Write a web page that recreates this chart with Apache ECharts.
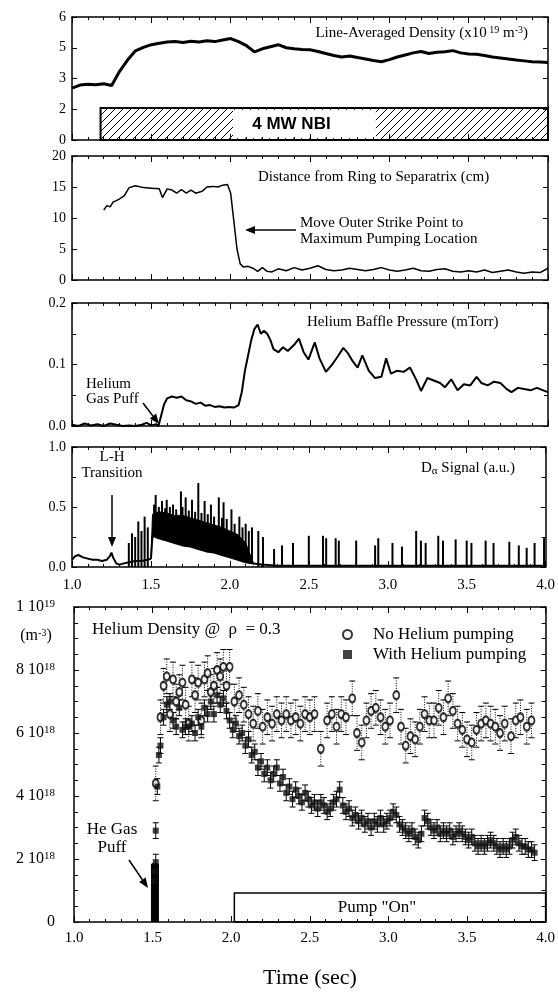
<!DOCTYPE html>
<html>
<head>
<meta charset="utf-8">
<title>Helium pumping</title>
<script src="https://cdn.jsdelivr.net/npm/echarts@6/dist/echarts.min.js"></script>
<style>
html, body { margin: 0; padding: 0; background: #fff; }
#main { width: 558px; height: 999px; }
</style>
</head>
<body>
<div id="main"></div>
<script>
// ---- values ----
// panel 1: line-averaged density (plotted on the 0..6 frame)
var densT = [1.00,1.05,1.10,1.15,1.20,1.25,1.30,1.35,1.40,1.45,1.50,1.55,1.60,1.65,1.70,1.75,1.80,1.85,1.90,1.95,
  2.00,2.05,2.10,2.15,2.20,2.25,2.30,2.35,2.40,2.45,2.50,2.55,2.60,2.65,2.70,2.75,2.80,2.85,2.90,2.95,
  3.00,3.05,3.10,3.15,3.20,3.25,3.30,3.35,3.40,3.45,3.50,3.55,3.60,3.65,3.70,3.75,3.80,3.85,3.90,3.95,4.00]
var densV = [2.53,2.68,2.72,2.70,2.74,2.66,3.35,3.90,4.35,4.52,4.65,4.72,4.78,4.80,4.76,4.82,4.78,4.84,4.80,4.88,
  4.95,4.80,4.60,4.30,4.45,4.55,4.65,4.50,4.45,4.42,4.40,4.32,4.22,4.12,4.05,4.10,4.02,3.95,3.88,3.82,
  3.92,4.05,4.15,4.25,4.32,4.22,4.28,4.30,4.36,4.25,4.20,4.18,4.12,4.05,4.00,3.95,3.90,3.86,3.82,3.80,3.78]
var densTicks = { 0: '0', 1.5: '2', 3: '3', 4.5: '5', 6: '6' }
var nbiOn = 1.18

// panel 2: distance from ring to separatrix (cm)
var distT = [1.20,1.22,1.24,1.26,1.28,1.30,1.33,1.36,1.40,1.45,1.50,1.55,1.57,1.60,1.63,1.66,1.69,1.72,1.75,1.78,
  1.82,1.85,1.89,1.92,1.95,1.98,2.00,2.02,2.04,2.06,2.08,2.11,2.14,2.17,2.20,2.23,2.26,2.30,2.35,2.40,
  2.45,2.50,2.55,2.60,2.65,2.70,2.75,2.80,2.85,2.90,2.95,3.00,3.05,3.10,3.15,3.20,3.25,3.30,3.35,3.40,
  3.45,3.50,3.55,3.60,3.65,3.70,3.75,3.80,3.85,3.90,3.95,4.00]
var distV = [11.3,12.0,11.8,12.6,12.8,13.1,13.6,14.9,15.2,14.9,14.8,14.7,13.3,14.7,14.5,14.0,14.6,14.0,14.5,14.0,
  14.3,15.0,15.1,15.0,15.3,15.4,14.0,9.5,5.0,2.6,2.1,2.2,1.9,1.4,2.0,1.4,1.3,1.8,1.5,2.0,
  1.6,1.9,2.3,1.7,1.5,1.6,1.9,1.7,1.5,1.7,2.0,1.6,1.4,1.6,1.9,1.5,1.4,1.7,1.8,1.4,
  1.3,1.5,1.3,1.6,1.2,1.4,1.6,1.3,1.1,1.3,1.2,1.9]

// panel 3: helium baffle pressure (mTorr)
var presT = [1.00,1.04,1.08,1.12,1.16,1.20,1.24,1.28,1.32,1.36,1.40,1.44,1.47,1.50,1.53,1.545,1.56,1.58,1.60,1.63,
  1.66,1.69,1.72,1.75,1.78,1.81,1.84,1.87,1.90,1.93,1.96,1.99,2.02,2.05,2.07,2.09,2.11,2.13,2.15,2.17,
  2.19,2.21,2.23,2.25,2.27,2.30,2.33,2.36,2.40,2.43,2.46,2.49,2.53,2.56,2.60,2.64,2.68,2.71,2.74,2.77,
  2.80,2.83,2.87,2.91,2.95,2.98,3.01,3.05,3.09,3.13,3.17,3.20,3.24,3.28,3.32,3.35,3.39,3.43,3.47,3.51,
  3.55,3.58,3.62,3.66,3.70,3.74,3.77,3.81,3.85,3.89,3.93,3.97,4.00]
var presV = [0.002,0.000,0.004,0.001,0.003,0.000,0.004,0.002,0.000,0.001,0.000,0.002,0.005,0.001,0.003,0.000,0.015,0.035,0.045,0.048,
  0.046,0.048,0.042,0.040,0.036,0.038,0.033,0.034,0.031,0.032,0.030,0.031,0.030,0.034,0.055,0.090,0.115,0.140,0.158,0.165,
  0.150,0.155,0.150,0.140,0.125,0.120,0.128,0.122,0.132,0.142,0.120,0.108,0.136,0.110,0.088,0.100,0.115,0.127,0.118,0.105,
  0.095,0.115,0.090,0.078,0.080,0.110,0.085,0.090,0.088,0.095,0.075,0.057,0.078,0.074,0.070,0.063,0.076,0.058,0.068,0.066,
  0.080,0.070,0.066,0.072,0.070,0.060,0.055,0.062,0.060,0.058,0.062,0.058,0.055]

// panel 4: D-alpha signal (a.u.)
var dalPreT = [1.00,1.02,1.04,1.07,1.10,1.13,1.16,1.19,1.22,1.24,1.25,1.26,1.28,1.30,1.33,1.36,1.40,1.44,1.48,1.50]
var dalPreV = [0.06,0.09,0.10,0.08,0.07,0.06,0.06,0.05,0.06,0.09,0.12,0.08,0.03,0.02,0.03,0.04,0.05,0.05,0.06,0.07]
var bandT = [1.50,1.51,1.55,1.60,1.65,1.70,1.75,1.80,1.85,1.90,1.95,2.00,2.05,2.10,2.15]
var bandHi = [0.07,0.44,0.46,0.45,0.43,0.43,0.41,0.39,0.37,0.35,0.33,0.30,0.27,0.20,0.03]
var bandLo = [0.07,0.26,0.24,0.22,0.20,0.18,0.17,0.15,0.13,0.12,0.10,0.08,0.06,0.04,0.03]
var dalPostT = [2.20,2.30,2.50,2.70,3.00,3.30,3.60,4.00]
var dalPostV = [0.02,0.01,0.01,0.01,0.01,0.01,0.01,0.01]
var spikeT = [1.36,1.38,1.40,1.42,1.44,1.46,1.48,1.52,1.53,1.55,1.57,1.59,1.60,1.62,1.64,1.66,1.69,1.70,1.72,1.74,
  1.76,1.78,1.80,1.82,1.84,1.86,1.88,1.90,1.93,1.95,1.96,1.98,2.01,2.03,2.06,2.08,2.10,2.12,2.14,2.18,
  2.21,2.28,2.33,2.40,2.50,2.59,2.61,2.67,2.69,2.80,2.92,2.94,3.03,3.09,3.18,3.21,3.24,3.32,3.35,3.43,
  3.50,3.53,3.62,3.67,3.77,3.83,3.88,3.93,3.99]
var spikeH = [0.20,0.28,0.25,0.38,0.30,0.42,0.33,0.52,0.60,0.50,0.55,0.49,0.56,0.50,0.52,0.48,0.63,0.50,0.58,0.47,
  0.56,0.46,0.70,0.45,0.55,0.44,0.52,0.42,0.58,0.41,0.54,0.40,0.48,0.36,0.42,0.33,0.36,0.30,0.33,0.30,
  0.25,0.15,0.18,0.20,0.26,0.26,0.24,0.24,0.22,0.22,0.18,0.24,0.20,0.17,0.30,0.22,0.20,0.26,0.22,0.23,
  0.22,0.20,0.22,0.20,0.21,0.18,0.16,0.20,0.24]

// panel 5: helium density @ rho = 0.3, in units of 1e18 m^-3
var noPumpT = [1.52,1.55,1.57,1.59,1.61,1.63,1.65,1.67,1.69,1.71,1.73,1.75,1.77,1.79,1.81,1.83,1.85,1.87,1.89,1.91,
  1.93,1.95,1.97,1.99,2.02,2.05,2.08,2.11,2.14,2.17,2.20,2.23,2.26,2.29,2.32,2.35,2.38,2.41,2.44,2.47,
  2.50,2.53,2.57,2.61,2.64,2.67,2.70,2.73,2.77,2.80,2.83,2.86,2.89,2.92,2.95,2.98,3.01,3.05,3.08,3.11,
  3.14,3.17,3.20,3.23,3.26,3.29,3.32,3.35,3.38,3.41,3.44,3.47,3.50,3.53,3.56,3.59,3.62,3.65,3.68,3.71,
  3.74,3.78,3.81,3.84,3.88,3.91]
var noPumpV = [4.4,6.5,7.5,7.8,6.6,7.7,7.0,7.3,7.6,6.9,6.3,7.7,7.2,7.6,6.4,7.7,7.9,7.3,7.5,8.0,
  7.8,8.1,7.5,8.1,7.0,7.2,6.9,6.6,6.3,6.7,6.2,6.5,6.3,6.6,6.4,6.6,6.4,6.5,6.3,6.6,
  6.5,6.6,5.5,6.4,6.6,6.2,6.6,6.5,7.1,6.0,5.7,6.4,6.7,6.8,6.5,6.2,6.4,7.2,6.2,5.6,
  5.9,5.8,6.2,6.6,6.4,6.4,6.8,6.5,7.1,6.7,6.3,6.1,5.8,5.7,6.1,6.3,6.4,6.3,6.2,6.0,
  6.3,5.9,6.4,6.5,6.2,6.4]
var noPumpErr = 0.55
var pumpT = [1.51,1.515,1.52,1.52,1.53,1.54,1.55,
  1.57,1.59,1.61,1.63,1.65,1.67,1.69,1.71,1.73,1.75,
  1.77,1.79,1.81,1.83,1.85,1.87,1.89,1.91,1.93,1.95,
  1.97,1.99,2.01,2.03,2.05,2.07,2.09,2.11,2.13,2.15,
  2.17,2.19,2.21,2.23,2.25,2.27,2.29,2.31,2.33,2.35,
  2.37,2.39,2.41,2.43,2.45,2.47,2.49,2.51,2.53,2.55,
  2.57,2.59,2.61,2.63,2.65,2.67,2.69,2.71,2.73,2.75,
  2.77,2.79,2.81,2.83,2.85,2.87,2.89,2.91,2.93,2.95,
  2.97,2.99,3.01,3.03,3.05,3.07,3.09,3.11,3.13,3.15,
  3.17,3.19,3.21,3.23,3.25,3.27,3.29,3.31,3.33,3.35,
  3.37,3.39,3.41,3.43,3.45,3.47,3.49,3.51,3.53,3.55,
  3.57,3.59,3.61,3.63,3.65,3.67,3.69,3.71,3.73,3.75,
  3.77,3.79,3.81,3.83,3.85,3.87,3.89,3.91,3.93]
var pumpV = [1.3,1.6,1.9,2.9,4.3,5.3,5.6,
  6.5,6.9,7.0,6.4,6.2,6.8,6.1,6.2,6.2,6.3,
  6.0,6.5,6.2,6.8,6.6,7.0,6.6,7.2,6.9,7.1,
  6.7,6.4,6.1,6.3,5.9,6.0,5.6,5.8,5.3,5.4,
  4.9,5.1,4.7,4.9,4.5,4.7,4.9,4.4,4.6,4.1,
  4.3,3.9,4.2,4.0,3.8,4.1,3.9,3.7,3.8,3.6,
  3.8,3.7,3.5,3.6,3.8,3.9,4.2,3.7,3.5,3.6,
  3.3,3.4,3.2,3.3,3.1,3.2,3.0,3.2,3.1,3.3,
  3.1,3.2,3.3,3.5,3.4,3.1,3.0,2.9,2.8,2.9,
  2.7,2.6,2.8,3.3,3.2,3.0,2.9,3.0,2.8,2.9,
  2.8,2.9,2.7,2.8,2.9,2.8,2.7,2.6,2.7,2.5,
  2.4,2.5,2.4,2.5,2.6,2.5,2.4,2.3,2.4,2.3,
  2.4,2.6,2.7,2.5,2.4,2.4,2.3,2.3,2.2]
var pumpErr = 0.25
var puffT = [1.515]
var puffV = [1.85]
var pumpOnT = 2.02

// ---- layout ----
var serif = 'Liberation Serif'
var grids = [
  { left: 72, right: 10, top: 17, height: 123 },
  { left: 72, right: 10, top: 156, height: 124 },
  { left: 72, right: 10, top: 303, height: 123 },
  { left: 72, right: 10, top: 447, height: 120 },
  { left: 74, right: 10, top: 607, height: 315 }
]
var yCfg = [
  { max: 6, interval: 1.5, minor: 0, fmt: function(v) { return densTicks[v] } },
  { max: 20, interval: 5, minor: 0, fmt: function(v) { return String(v) } },
  { max: 0.2, interval: 0.1, minor: 2, fmt: function(v) { return v.toFixed(1) } },
  { max: 1, interval: 0.5, minor: 2, fmt: function(v) { return v.toFixed(1) } },
  { max: 10, interval: 2, minor: 4, fmt: function(v) {
    if (v === 0) return '0'
    if (v === 10) return '1 10{s|19}'
    return v + ' 10{s|18}'
  } }
]

function pairs(t, v) {
  return t.map(function(x, i) { return [x, v[i]] })
}
function withErr(t, v, e) {
  return t.map(function(x, i) { return [x, v[i], e] })
}

var xAxes = []
var yAxes = []
grids.forEach(function(g, i) {
  ['bottom', 'top'].forEach(function(pos) {
    xAxes.push({
      type: 'value', gridIndex: i, position: pos, min: 1, max: 4, interval: 0.5, z: 10,
      axisLine: { show: true, onZero: false, lineStyle: { color: '#000', width: 1.5 } },
      axisTick: { inside: true, length: 6, lineStyle: { color: '#000', width: 1 } },
      minorTick: { show: true, splitNumber: 5, length: 3, lineStyle: { color: '#000' } },
      splitLine: { show: false },
      axisLabel: {
        show: pos === 'bottom' && i >= 3, margin: i === 3 ? 11 : 9,
        color: '#000', fontFamily: serif, fontSize: 15,
        formatter: function(v) { return v.toFixed(1) }
      }
    })
  })
  var c = yCfg[i];
  ['left', 'right'].forEach(function(pos) {
    yAxes.push({
      type: 'value', gridIndex: i, position: pos, min: 0, max: c.max, interval: c.interval, z: 10,
      axisLine: { show: true, onZero: false, lineStyle: { color: '#000', width: 1.5 } },
      axisTick: { inside: true, length: 5, lineStyle: { color: '#000', width: 1 } },
      minorTick: { show: c.minor > 0, splitNumber: c.minor || 2, length: 4, lineStyle: { color: '#000' } },
      splitLine: { show: false },
      axisLabel: {
        show: pos === 'left', margin: i === 4 ? 19 : 6,
        color: '#000', fontFamily: serif, fontSize: i === 4 ? 16 : 14,
        formatter: c.fmt,
        rich: { s: { fontFamily: serif, fontSize: 11, verticalAlign: 'top', padding: [0, 0, 6, 0] } }
      }
    })
  })
})

// hatch pattern for the NBI bar
var hatch = document.createElement('canvas')
hatch.width = 8
hatch.height = 8
var hc = hatch.getContext('2d')
hc.fillStyle = '#fff'
hc.fillRect(0, 0, 8, 8)
hc.strokeStyle = '#000'
hc.lineWidth = 1
hc.beginPath()
hc.moveTo(0, 8); hc.lineTo(8, 0)
hc.moveTo(-1, 1); hc.lineTo(1, -1)
hc.moveTo(7, 9); hc.lineTo(9, 7)
hc.stroke()

function errBars(dotted) {
  return function(params, api) {
    var x = api.value(0), y = api.value(1), e = api.value(2)
    var hi = api.coord([x, y + e])
    var lo = api.coord([x, y - e])
    var w = 3
    return {
      type: 'group',
      children: [
        { type: 'line', shape: { x1: hi[0], y1: hi[1], x2: lo[0], y2: lo[1] },
          style: { stroke: '#000', lineWidth: 1, lineDash: dotted ? [1, 1.5] : null } },
        { type: 'line', shape: { x1: hi[0] - w, y1: hi[1], x2: hi[0] + w, y2: hi[1] }, style: { stroke: '#000', lineWidth: 1 } },
        { type: 'line', shape: { x1: lo[0] - w, y1: lo[1], x2: lo[0] + w, y2: lo[1] }, style: { stroke: '#000', lineWidth: 1 } }
      ]
    }
  }
}

function txt(x, y, text, size, align, rich) {
  return {
    type: 'text', x: x, y: y, z: 20,
    style: { text: text, fontFamily: serif, fontSize: size, fill: '#000', align: align || 'left', verticalAlign: 'middle', rich: rich }
  }
}
function arrow(x1, y1, x2, y2) {
  var a = Math.atan2(y2 - y1, x2 - x1), L = 10, W = 4
  var bx = x2 - L * Math.cos(a), by = y2 - L * Math.sin(a)
  var px = -Math.sin(a) * W, py = Math.cos(a) * W
  return [
    { type: 'line', z: 20, shape: { x1: x1, y1: y1, x2: bx, y2: by }, style: { stroke: '#000', lineWidth: 1.5 } },
    { type: 'polygon', z: 20, shape: { points: [[x2, y2], [bx + px, by + py], [bx - px, by - py]] }, style: { fill: '#000' } }
  ]
}
var sup = { s: { fontFamily: serif, fontSize: 10, verticalAlign: 'top', padding: [0, 0, 6, 0] } }
var sub = { d: { fontFamily: serif, fontSize: 11, verticalAlign: 'bottom', padding: [6, 0, 0, 0] } }

var graphics = [
  txt(528, 33, 'Line-Averaged Density (x10{s| 19} m{s|-3})', 15, 'right', sup),
  txt(258, 177, 'Distance from Ring to Separatrix (cm)', 15),
  txt(300, 223, 'Move Outer Strike Point to', 15),
  txt(300, 239, 'Maximum Pumping Location', 15),
  txt(307, 322, 'Helium Baffle Pressure (mTorr)', 15),
  txt(86, 384, 'Helium', 15),
  txt(86, 399, 'Gas Puff', 15),
  txt(112, 457, 'L-H', 15, 'center'),
  txt(112, 473, 'Transition', 15, 'center'),
  txt(421, 468, 'D{d|α} Signal (a.u.)', 15, 'left', sub),
  txt(92, 630, 'Helium Density @  ρ  = 0.3', 17),
  txt(36, 636, '(m{s|-3})', 16, 'center', sup),
  txt(112, 830, 'He Gas', 17, 'center'),
  txt(112, 848, 'Puff', 17, 'center'),
  txt(310, 978, 'Time (sec)', 22, 'center')
].concat(arrow(296, 230, 245, 230), arrow(143, 403, 159, 424), arrow(112, 495, 112, 547), arrow(129, 860, 148, 888))

var option = {
  animation: false,
  backgroundColor: '#fff',
  grid: grids,
  xAxis: xAxes,
  yAxis: yAxes,
  legend: {
    data: ['No Helium pumping', 'With Helium pumping'],
    orient: 'vertical', left: 337, top: 621, itemGap: 3, itemWidth: 9, itemHeight: 9,
    textStyle: { fontFamily: serif, fontSize: 17, color: '#000', padding: [0, 0, 0, 16] }
  },
  graphic: graphics,
  series: [
    {
      type: 'line', xAxisIndex: 0, yAxisIndex: 0, data: pairs(densT, densV), showSymbol: false,
      lineStyle: { color: '#000', width: 3 },
      markArea: {
        silent: true,
        data: [
          [{ xAxis: nbiOn, yAxis: 0, itemStyle: { color: { image: hatch, repeat: 'repeat' }, borderColor: '#000', borderWidth: 2 }, label: { show: false } },
           { xAxis: 4, yAxis: 1.56 }],
          [{ xAxis: 2.015, yAxis: 0.08, name: '4 MW NBI', itemStyle: { color: '#fff' },
             label: { show: true, position: 'inside', offset: [-13, 0], color: '#000', fontFamily: 'Liberation Sans', fontWeight: 'bold', fontSize: 17 } },
           { xAxis: 2.915, yAxis: 1.48 }]
        ]
      }
    },
    {
      type: 'line', xAxisIndex: 2, yAxisIndex: 2, data: pairs(distT, distV), showSymbol: false,
      lineStyle: { color: '#000', width: 1.5 }
    },
    {
      type: 'line', xAxisIndex: 4, yAxisIndex: 4, data: pairs(presT, presV), showSymbol: false,
      lineStyle: { color: '#000', width: 2 }
    },
    {
      type: 'line', xAxisIndex: 6, yAxisIndex: 6, data: pairs(bandT, bandHi), showSymbol: false,
      lineStyle: { color: '#000', width: 1 }, areaStyle: { color: '#000', opacity: 1 }
    },
    {
      type: 'bar', xAxisIndex: 6, yAxisIndex: 6, data: pairs(spikeT, spikeH), barWidth: 2,
      itemStyle: { color: '#000' }
    },
    {
      type: 'line', xAxisIndex: 6, yAxisIndex: 6, data: pairs(bandT, bandLo), showSymbol: false,
      lineStyle: { color: '#000', width: 0 }, areaStyle: { color: '#fff', opacity: 1 }
    },
    {
      type: 'line', xAxisIndex: 6, yAxisIndex: 6, showSymbol: false,
      data: pairs(dalPreT, dalPreV).concat(pairs(bandT, bandLo), pairs(dalPostT, dalPostV)),
      lineStyle: { color: '#000', width: 2 }
    },
    {
      type: 'bar', xAxisIndex: 8, yAxisIndex: 8, data: pairs(puffT, puffV), barWidth: 8,
      itemStyle: { color: '#000' },
      markArea: {
        silent: true,
        data: [[
          { xAxis: pumpOnT, yAxis: 0, name: 'Pump "On"', itemStyle: { color: '#fff', borderColor: '#000', borderWidth: 1.5 },
            label: { show: true, position: 'inside', offset: [-13, 0], color: '#000', fontFamily: serif, fontSize: 17 } },
          { xAxis: 4, yAxis: 0.92 }
        ]]
      }
    },
    {
      type: 'custom', xAxisIndex: 8, yAxisIndex: 8, data: withErr(noPumpT, noPumpV, noPumpErr),
      encode: { x: 0, y: 1 }, renderItem: errBars(true), silent: true
    },
    {
      type: 'custom', xAxisIndex: 8, yAxisIndex: 8, data: withErr(pumpT, pumpV, pumpErr),
      encode: { x: 0, y: 1 }, renderItem: errBars(false), silent: true
    },
    {
      name: 'No Helium pumping', type: 'scatter', xAxisIndex: 8, yAxisIndex: 8,
      data: pairs(noPumpT, noPumpV), symbol: 'emptyCircle', symbolSize: [6, 8],
      itemStyle: { color: '#000', borderWidth: 1 }
    },
    {
      name: 'With Helium pumping', type: 'scatter', xAxisIndex: 8, yAxisIndex: 8,
      data: pairs(pumpT, pumpV), symbol: 'rect', symbolSize: 6,
      itemStyle: { color: '#111' }
    }
  ]
}

var myChart = echarts.init(document.getElementById('main'))
myChart.setOption(option)
window.onresize = function() {
  myChart.resize()
}
</script>
</body>
</html>
